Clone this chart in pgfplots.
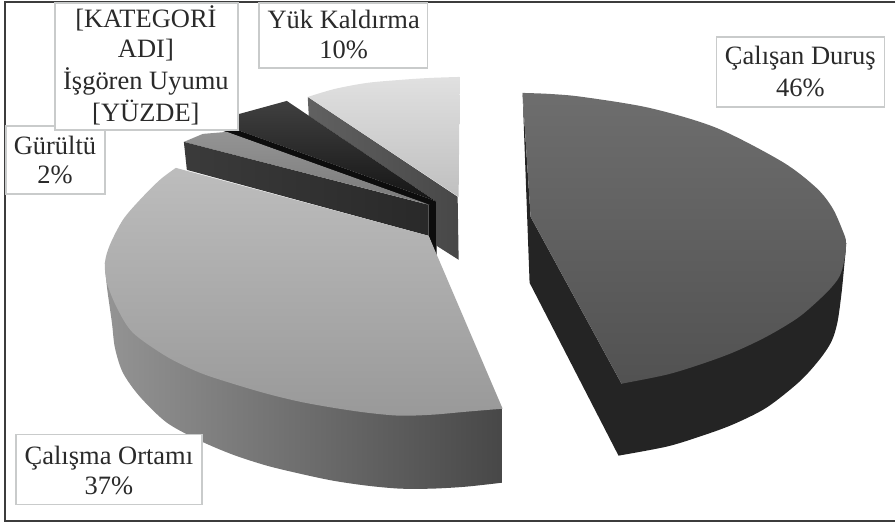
\documentclass[border=0pt]{standalone}
\usepackage{pgfplots}
\pgfplotsset{compat=1.18}
\usepackage{fontspec}
\setmainfont{Liberation Serif}
\definecolor{framec}{HTML}{3C3C3C}
\definecolor{boxc}{HTML}{C9CBCB}
\definecolor{textc}{HTML}{2A2A2A}
\tikzset{
  lab/.style={font=\fontsize{26.5}{30}\selectfont, text=textc, anchor=base, inner sep=0pt},
  labbox/.style={fill=white, draw=boxc, line width=1.5pt},
}
\begin{document}
\begin{tikzpicture}
\begin{axis}[
  scale only axis, width=896pt, height=524pt,
  xmin=0, xmax=896, ymin=0, ymax=524, y dir=reverse,
  hide axis, clip=false,
  every axis plot/.append style={draw=none, mark=none, forget plot},
]
% page corners keep the picture at its full size
\addplot[draw=none] coordinates {(0,0)(896,524)};
% chart frame, open on the right
\addplot[draw=framec, line width=1.4pt, fill=none] coordinates {(896,2)(5,2)(5,521.5)(896,521.5)};

% Each rim is a smooth curve; the straight cut edges are appended to it.
% Calisan Durus: side wall, then top face
\addplot[smooth, fill=black!86!white] coordinates {(847,243)(845,265)(842,295)(838,323)(832,342)(820,360)(800,382)(767,408)(733,425)(700,437)(667,447)(619,456)} -- (axis cs:530,283) -- (axis cs:523,93) -- (axis cs:531,217) -- (axis cs:622,384) -- cycle;
\addplot[smooth, top color=black!57!white, bottom color=black!68!white] coordinates {
(523,93)(550,94)(583,97)(650,108)(717,128)(783,162)(817,188)(833,208)(843,230)(847,243)(845,260)(840,277)(827,293)(800,317)(767,337)(733,353)(700,365)(667,375)(622,384)} -- (axis cs:531,217) -- cycle;

% Yuk Kaldirma
\addplot[left color=black!62!white, right color=black!72!white] coordinates {(308,97)(458,197)(459,260)(437,246)(437,202)(309,116)} --cycle;
\addplot[smooth, top color=black!12!white, bottom color=black!25!white] coordinates {(308,97)(335,89)(367,83)(400,80)(430,78)(460,77)} -- (axis cs:459,197) -- cycle;

% Isgoren Uyumu
\addplot[top color=black!75!white, bottom color=black!92!white] coordinates {(287,101)(437,202)(430,199)(215,122)(225,118)} --cycle;
\addplot[fill=black!95!white] coordinates {(215,122)(430,199)(437,202)(437,257)(429,236)(429,205)(215,128)} --cycle;

% Gurultu
\addplot[top color=black!42!white, bottom color=black!52!white] coordinates {(184,142)(203,134)(227,132)(430,205)} --cycle;
\addplot[left color=black!77!white, right color=black!84!white] coordinates {(184,142)(429,205)(429,236)(187,170)} --cycle;

% Calisma Ortami: side wall, then top face
\addplot[smooth, left color=black!42!white, right color=black!72!white] coordinates {
(503,483)(467,487)(433,489)(400,489)(367,486)(333,481)(300,474)(267,466)(233,455)(200,441)(167,423)(140,397)(123,373)(115,348)(112,323)(107,287)(105,263)} -- (axis cs:503,409) -- cycle;
\addplot[smooth, top color=black!26!white, bottom color=black!40!white] coordinates {
(503,409)(467,412)(433,415)(400,416)(367,413)(333,408)(300,402)(267,394)(233,384)(200,373)(167,357)(133,333)(117,308)(107,283)(105,263)(110,245)(123,220)(140,200)(160,180)(176,168)} -- (axis cs:429,236) -- cycle;

% data label boxes
\addplot[labbox] coordinates {(717,37)(885,37)(885,107)(717,107)} --cycle;
\addplot[labbox] coordinates {(259,3)(428,3)(428,68)(259,68)} --cycle;
\addplot[labbox] coordinates {(6,126)(105,126)(105,194)(6,194)} --cycle;
\addplot[labbox] coordinates {(55,3)(238,3)(238,130)(55,130)} --cycle;
\addplot[labbox] coordinates {(16,435)(202,435)(202,505)(16,505)} --cycle;

% data labels
\node[lab] at (axis cs:801,65) {Çalışan Duruş};
\node[lab] at (axis cs:801,97) {46\%};
\node[lab] at (axis cs:344,29) {Yük Kaldırma};
\node[lab] at (axis cs:344,59) {10\%};
\node[lab] at (axis cs:146,28) {[KATEGORİ};
\node[lab] at (axis cs:146,58) {ADI]};
\node[lab] at (axis cs:146,90) {İşgören Uyumu};
\node[lab] at (axis cs:146,122) {[YÜZDE]};
\node[lab] at (axis cs:55,155) {Gürültü};
\node[lab] at (axis cs:55,184) {2\%};
\node[lab] at (axis cs:109,465) {Çalışma Ortamı};
\node[lab] at (axis cs:109,495) {37\%};
\end{axis}
\end{tikzpicture}
\end{document}
